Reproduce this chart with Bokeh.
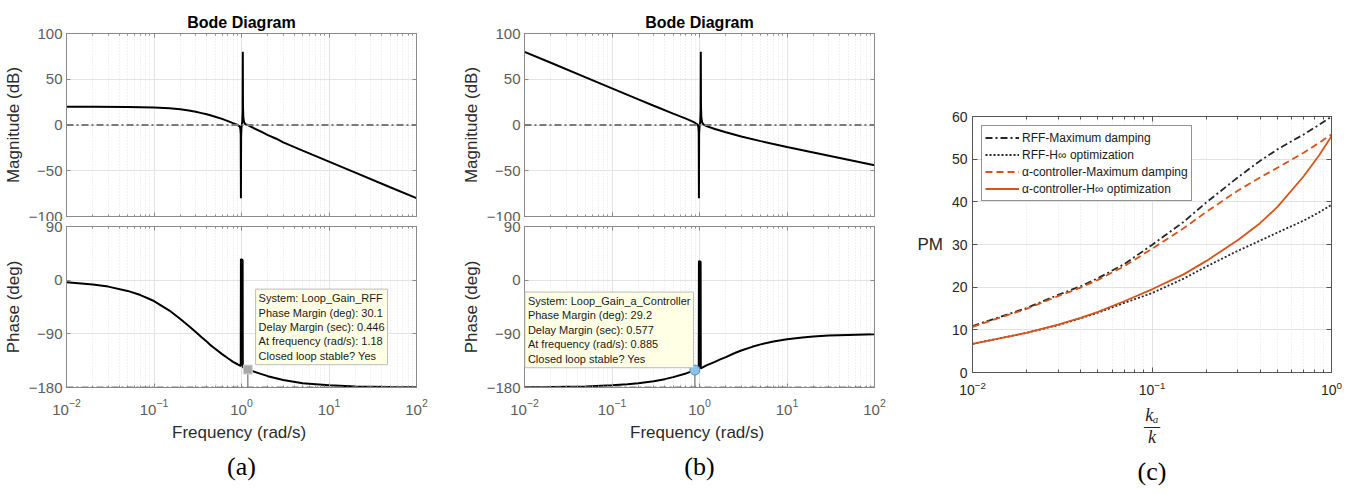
from bokeh.plotting import figure
from bokeh.layouts import row, column
from bokeh.models import (Range1d, LogAxis, LinearAxis, Label, FixedTicker, Legend,
                          LegendItem, Span, CustomJSTickFormatter, Title)
from bokeh.embed import file_html
from bokeh.resources import INLINE

SANS = "Liberation Sans"
SERIF = "Liberation Serif"

# ---------------- data: panel (a) ----------------
w_a_mag = [0.01, 0.02, 0.05, 0.1, 0.15, 0.2, 0.25, 0.3, 0.35, 0.4, 0.45, 0.5, 0.6, 0.7, 0.8,
           0.9, 0.95, 0.97, 0.98, 0.985, 0.99, 1.0, 1.02, 1.03, 1.035, 1.04, 1.05, 1.07, 1.1,
           1.18, 1.4, 1.7, 2.0, 2.5, 3.0, 5.0, 10.0, 20.0, 50.0, 100.0]
mag_a = [20.0, 20.0, 19.8, 19.2, 18.2, 17.1, 15.8, 14.4, 13.0, 11.7, 10.4, 9.1, 6.7, 4.3, 2.0,
         0.0, -1.5, -4.0, -10.0, -80.0, -12.0, -3.0, 4.0, 15.0, 80.0, 20.0, 8.0, 3.0, 1.0,
         0.0, -3.8, -7.5, -11.0, -15.0, -19.0, -28.0, -40.0, -52.0, -68.0, -80.0]
w_a_ph = [0.01, 0.02, 0.03, 0.05, 0.07, 0.1, 0.15, 0.2, 0.25, 0.3, 0.35, 0.4, 0.45, 0.5, 0.6,
          0.7, 0.8, 0.9, 0.95, 0.98, 0.985, 1.03, 1.035, 1.1, 1.18, 1.5, 2.0, 3.0, 5.0, 10.0,
          20.0, 50.0, 100.0]
ph_a = [-3.6, -7.2, -10.8, -18.0, -25.0, -35.0, -51.0, -65.0, -77.0, -87.0, -95.8, -103.0,
        -109.8, -115.0, -124.0, -131.0, -137.0, -141.0, -143.0, -144.0, 35.0, 34.0, -146.0,
        -148.0, -150.0, -155.0, -161.0, -167.5, -172.8, -176.4, -178.2, -179.3, -179.6]
pm_a_freq = [1.18]
pm_a_deg = [30.1]
tip_a = ["System: Loop_Gain_RFF", "Phase Margin (deg): 30.1", "Delay Margin (sec): 0.446",
         "At frequency (rad/s): 1.18", "Closed loop stable? Yes"]

# ---------------- data: panel (b) ----------------
w_b_mag = [0.01, 0.02, 0.05, 0.1, 0.2, 0.3, 0.5, 0.7, 0.8, 0.885, 0.95, 0.97, 0.98, 0.985,
           0.99, 1.0, 1.02, 1.03, 1.035, 1.04, 1.05, 1.07, 1.1, 1.2, 1.5, 2.0, 3.0, 5.0,
           10.0, 20.0, 50.0, 100.0]
mag_b = [80.0, 68.0, 52.0, 40.0, 28.0, 21.0, 12.4, 7.0, 4.5, 2.5, 0.5, -2.0, -8.0, -80.0,
         -10.0, -2.0, 4.0, 15.0, 80.0, 20.0, 8.0, 3.0, 1.0, -1.2, -4.3, -8.0, -12.5, -17.6,
         -24.0, -30.0, -38.0, -44.0]
w_b_ph = [0.01, 0.02, 0.05, 0.1, 0.15, 0.2, 0.3, 0.4, 0.5, 0.7, 0.8, 0.885, 0.95, 0.98,
          0.985, 1.03, 1.035, 1.2, 1.5, 1.7, 2.0, 2.5, 3.0, 4.0, 5.0, 7.0, 10.0, 15.0, 20.0,
          30.0, 50.0, 100.0]
ph_b = [-179.6, -179.3, -178.2, -176.4, -174.6, -172.9, -169.4, -166.0, -162.6, -156.4,
        -153.4, -151.0, -149.5, -149.0, 32.0, 31.0, -148.0, -143.0, -137.0, -133.3, -129.0,
        -122.6, -118.0, -111.8, -107.7, -102.9, -99.1, -96.1, -94.6, -93.0, -91.8, -90.9]
pm_b_freq = [0.885]
pm_b_deg = [29.2]
tip_b = ["System: Loop_Gain_a_Controller", "Phase Margin (deg): 29.2", "Delay Margin (sec): 0.577",
         "At frequency (rad/s): 0.885", "Closed loop stable? Yes"]

# ---------------- data: panel (c) ----------------
ka_k = [0.01, 0.02, 0.03, 0.04, 0.05, 0.07, 0.1, 0.15, 0.2, 0.3, 0.4, 0.5, 0.7, 0.85, 1.0]
pm_rff_md = [10.9, 15.1, 18.2, 20.2, 22.1, 25.4, 29.9, 35.3, 39.8, 45.7, 49.6, 52.3, 55.8, 58.0, 60.0]
pm_rff_hinf = [6.7, 9.3, 11.1, 12.7, 14.0, 16.3, 18.6, 22.0, 24.8, 28.5, 30.9, 32.8, 35.6, 37.5, 39.3]
pm_alpha_md = [10.7, 14.9, 17.9, 19.9, 21.7, 24.9, 29.0, 33.8, 37.6, 42.6, 45.7, 48.0, 51.5, 53.8, 55.8]
pm_alpha_hinf = [6.7, 9.3, 11.2, 12.8, 14.2, 16.7, 19.5, 23.0, 26.1, 31.0, 35.0, 38.8, 46.0, 50.8, 55.4]
legend_labels = ["RFF-Maximum damping", "RFF-H\u221e optimization",
                 "\u03b1-controller-Maximum damping", "\u03b1-controller-H\u221e optimization"]

# ticks
bode_decades = [0.01, 0.1, 1.0, 10.0, 100.0]
bode_minor = [m * d for d in [0.01, 0.1, 1.0, 10.0] for m in range(2, 10)]
c_decades = [0.01, 0.1, 1.0]
c_minor = [m * d for d in [0.01, 0.1] for m in range(2, 10)]
mag_ticks = [-100, -50, 0, 50, 100]
ph_ticks = [-180, -90, 0, 90]
pm_ticks = [0, 10, 20, 30, 40, 50, 60]

AX = "#8a8a8a"
TICKLBL = "#5c5c5c"
LBL = "#2b2b2b"
ORANGE = "#D95319"


def style_axis(ax, col, tin, minin, size, tcol, standoff):
    ax.axis_line_color = col
    ax.major_tick_line_color = col
    ax.minor_tick_line_color = col
    ax.major_tick_in = tin
    ax.major_tick_out = 0
    ax.minor_tick_in = minin
    ax.minor_tick_out = 0
    ax.major_label_text_font = SANS
    ax.major_label_text_font_size = size
    ax.major_label_text_color = tcol
    ax.major_label_standoff = standoff
    ax.axis_label_text_font = SANS
    ax.axis_label_text_font_style = "normal"
    ax.axis_label_text_color = LBL


def box_axes(p, xt, yt, col, tin, minin):
    top = LogAxis(ticker=xt, formatter=CustomJSTickFormatter(code="return '';"))
    right = LinearAxis(ticker=yt, formatter=CustomJSTickFormatter(code="return '';"))
    for ax in (top, right):
        style_axis(ax, col, tin, minin, "10px", col, 0)
    p.add_layout(top, "above")
    p.add_layout(right, "right")


def bode_fig(yr, yticks, left, right, top, bottom, fh, ylabel, title=None, xlabels=False):
    kw = dict(x_axis_type="log", x_range=Range1d(0.01, 100), y_range=Range1d(*yr),
              frame_width=350, frame_height=fh, min_border_left=left, min_border_right=right,
              min_border_top=top, min_border_bottom=bottom, output_backend="svg",
              toolbar_location=None)
    if title:
        kw["title"] = title
    p = figure(**kw)
    p.outline_line_color = AX
    p.background_fill_color = "white"
    p.border_fill_color = "white"
    xt = FixedTicker(ticks=bode_decades, minor_ticks=bode_minor)
    yt = FixedTicker(ticks=yticks)
    bx = p.xaxis[0]
    ly = p.yaxis[0]
    bx.ticker = xt
    ly.ticker = yt
    style_axis(bx, AX, 4, 2, "15px", TICKLBL, 11)
    style_axis(ly, AX, 4, 2, "15px", TICKLBL, 4)
    ly.axis_label = ylabel
    ly.axis_label_text_font_size = "17px"
    ly.axis_label_standoff = 3
    if xlabels:
        bx.axis_label = "Frequency  (rad/s)"
        bx.axis_label_text_font_size = "17px"
        bx.axis_label_standoff = 5
    else:
        bx.formatter = CustomJSTickFormatter(code="return '';")
        bx.major_label_standoff = 0
    box_axes(p, xt, yt, AX, 4, 2)
    p.xgrid.grid_line_color = "#e4e4e4"
    p.xgrid.minor_grid_line_color = "#e4e4e4"
    p.xgrid.minor_grid_line_dash = "1 2"
    p.ygrid.grid_line_color = "#e4e4e4"
    if title:
        p.title.text_font = SANS
        p.title.text_font_size = "16px"
        p.title.text_font_style = "bold"
        p.title.text_color = "black"
        p.title.align = "center"
        p.title.standoff = 6
    return p


def add_tip(p, x, y, lines):
    p.add_layout(Label(x=x, y=y, text="\n".join(lines), text_font=SANS, text_font_size="11px",
                       text_color="#1a1a1a", text_align="left", text_baseline="top",
                       text_line_height=1.2, background_fill_color="#ffffe6",
                       border_line_color="#bcbcbc", border_line_width=1, padding=3))


def caption(p, txt, standoff):
    p.add_layout(Title(text=txt, text_font=SERIF, text_font_size="26px", text_font_style="normal",
                       text_color="black", align="center", standoff=standoff), "below")


# ---------------- panel (a) ----------------
magA = bode_fig((-100, 100), mag_ticks, 66, 42, 33, 5, 183, "Magnitude (dB)", title="Bode Diagram")
magA.add_layout(Span(location=0, dimension="width", line_color="#7a7a7a", line_width=2,
                     line_dash="7 3 2 3"))
magA.line(w_a_mag, mag_a, line_color="black", line_width=2)

phA = bode_fig((-180, 90), ph_ticks, 66, 42, 5, 103, 161, "Phase (deg)", xlabels=True)
phA.add_layout(Span(location=-180, dimension="width", line_color="#7a7a7a", line_width=2,
                    line_dash="7 3 2 3"))
phA.line(w_a_ph, ph_a, line_color="black", line_width=2)
phA.segment(x0=pm_a_freq, y0=[-180] * len(pm_a_freq), x1=pm_a_freq,
            y1=[-180 + v for v in pm_a_deg], line_color="#8c8c8c", line_width=1.5)
phA.scatter(pm_a_freq, [-180 + v for v in pm_a_deg], marker="square", size=9,
            fill_color="#a8a8a8", line_color="#d4d4d4", line_width=1)
add_tip(phA, 1.45, -15, tip_a)
caption(phA, "(a)", 11)

# ---------------- panel (b) ----------------
magB = bode_fig((-100, 100), mag_ticks, 66, 40, 33, 5, 183, "Magnitude (dB)", title="Bode Diagram")
magB.add_layout(Span(location=0, dimension="width", line_color="#7a7a7a", line_width=2,
                     line_dash="7 3 2 3"))
magB.line(w_b_mag, mag_b, line_color="black", line_width=2)

phB = bode_fig((-180, 90), ph_ticks, 66, 40, 5, 103, 161, "Phase (deg)", xlabels=True)
phB.add_layout(Span(location=-180, dimension="width", line_color="#7a7a7a", line_width=2,
                    line_dash="7 3 2 3"))
phB.line(w_b_ph, ph_b, line_color="black", line_width=2)
phB.segment(x0=pm_b_freq, y0=[-180] * len(pm_b_freq), x1=pm_b_freq,
            y1=[-180 + v for v in pm_b_deg], line_color="#8c8c8c", line_width=1.5)
phB.scatter(pm_b_freq, [-180 + v for v in pm_b_deg], marker="circle", size=10,
            fill_color="#8cc2ea", line_color="#4f8fc0", line_width=1)
add_tip(phB, 0.0101, -20, tip_b)
caption(phB, "(b)", 11)

# ---------------- panel (c) ----------------
CAX = "#555555"
pc = figure(x_axis_type="log", x_range=Range1d(0.01, 1), y_range=Range1d(0, 60),
            frame_width=359, frame_height=256, min_border_left=56, min_border_right=21,
            min_border_top=116, min_border_bottom=118, output_backend="svg",
            toolbar_location=None)
pc.outline_line_color = CAX
pc.background_fill_color = "white"
pc.border_fill_color = "white"
cxt = FixedTicker(ticks=c_decades, minor_ticks=c_minor)
cyt = FixedTicker(ticks=pm_ticks)
cbx = pc.xaxis[0]
cly = pc.yaxis[0]
cbx.ticker = cxt
cly.ticker = cyt
style_axis(cbx, CAX, 5, 3, "14px", "#262626", 8)
style_axis(cly, CAX, 5, 3, "14px", "#262626", 5)

cly.axis_label = "PM"
cly.axis_label_text_font_size = "17px"
cly.axis_label_text_color = "#262626"
cly.axis_label_standoff = 6
try:
    cly.axis_label_orientation = "horizontal"
except Exception:
    pass

cbx.axis_label = "k\u2090\n\u2014\nk"
cbx.axis_label_text_font = SERIF
cbx.axis_label_text_font_style = "italic"
cbx.axis_label_text_font_size = "18px"
cbx.axis_label_text_color = "#262626"
cbx.axis_label_text_line_height = 0.56
cbx.axis_label_standoff = 7

box_axes(pc, cxt, cyt, CAX, 5, 3)
pc.xgrid.grid_line_color = "#e2e2e2"
pc.xgrid.minor_grid_line_color = "#e2e2e2"
pc.xgrid.minor_grid_line_dash = "1 2"
pc.ygrid.grid_line_color = "#e2e2e2"

r1 = pc.line(ka_k, pm_rff_md, line_color="#262626", line_width=1.8, line_dash="7 3 2 3")
r2 = pc.line(ka_k, pm_rff_hinf, line_color="#262626", line_width=1.8, line_dash="2 2")
r3 = pc.line(ka_k, pm_alpha_md, line_color=ORANGE, line_width=1.8, line_dash="7 4")
r4 = pc.line(ka_k, pm_alpha_hinf, line_color=ORANGE, line_width=1.8)

legend = Legend(items=[LegendItem(label=l, renderers=[r]) for l, r in zip(legend_labels, [r1, r2, r3, r4])],
                location="top_left", margin=9, padding=3, spacing=0,
                label_text_font=SANS, label_text_font_size="12px", label_text_color="#1a1a1a",
                label_height=17, glyph_height=17, glyph_width=34, label_standoff=3,
                border_line_color="#262626", border_line_width=1,
                background_fill_color="white", background_fill_alpha=1.0)
pc.add_layout(legend)
caption(pc, "(c)", 11)

layout = row(column(magA, phA), column(magB, phB), pc)
open("out.html", "w").write(file_html(layout, INLINE))
